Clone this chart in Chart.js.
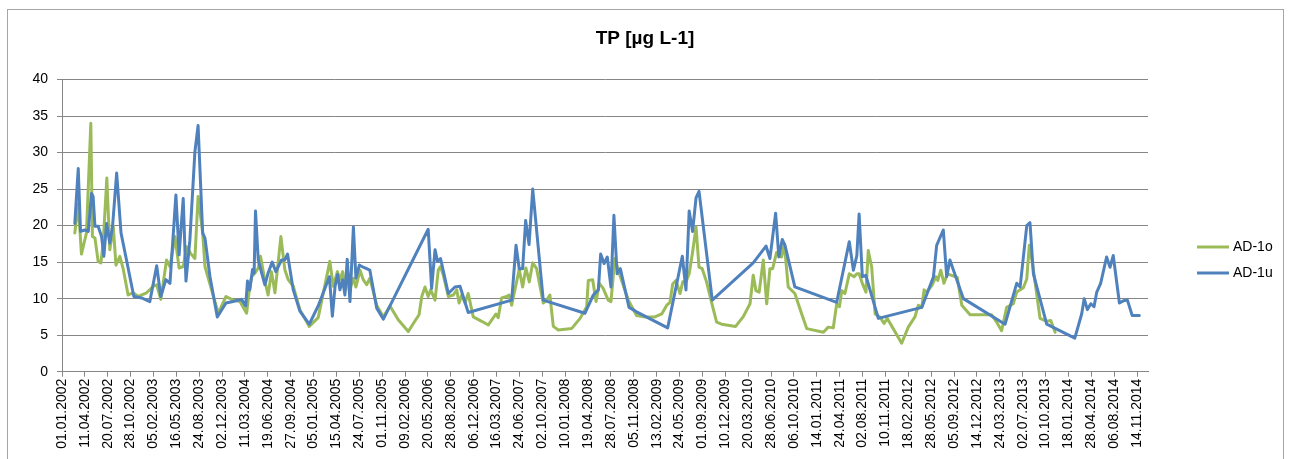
<!DOCTYPE html>
<html>
<head>
<meta charset="utf-8">
<title>TP</title>
<script src="https://cdn.jsdelivr.net/npm/chart.js@4/dist/chart.umd.min.js"></script>
<style>
    html, body { margin: 0; padding: 0; background: #fff; }
    #wrap { width: 1290px; height: 459px; }
</style>
</head>
<body>
<div id="wrap"><canvas id="tpChart" width="1290" height="459"></canvas></div>
<script>
// Axis labels (every 100 days from 01.01.2002)
const tickLabels = [
    '01.01.2002', '11.04.2002', '20.07.2002', '28.10.2002', '05.02.2003', '16.05.2003',
    '24.08.2003', '02.12.2003', '11.03.2004', '19.06.2004', '27.09.2004', '05.01.2005',
    '15.04.2005', '24.07.2005', '01.11.2005', '09.02.2006', '20.05.2006', '28.08.2006',
    '06.12.2006', '16.03.2007', '24.06.2007', '02.10.2007', '10.01.2008', '19.04.2008',
    '28.07.2008', '05.11.2008', '13.02.2009', '24.05.2009', '01.09.2009', '10.12.2009',
    '20.03.2010', '28.06.2010', '06.10.2010', '14.01.2011', '24.04.2011', '02.08.2011',
    '10.11.2011', '18.02.2012', '28.05.2012', '05.09.2012', '14.12.2012', '24.03.2013',
    '02.07.2013', '10.10.2013', '18.01.2014', '28.04.2014', '06.08.2014', '14.11.2014'
];
const yTicks = [0, 5, 10, 15, 20, 25, 30, 35, 40];

// AD-1o (upper)
const dates1o = [
    '26.02.2002', '13.03.2002', '27.03.2002', '18.04.2002', '07.05.2002', '14.05.2002', '25.05.2002', '08.06.2002',
    '20.06.2002', '30.06.2002', '16.07.2002', '29.07.2002', '13.08.2002', '25.08.2002', '11.09.2002', '26.09.2002',
    '17.10.2002', '08.11.2002', '30.11.2002', '06.01.2003', '04.02.2003', '19.02.2003', '09.03.2003', '03.04.2003',
    '18.04.2003', '10.05.2003', '28.05.2003', '15.06.2003', '30.06.2003', '17.07.2003', '05.08.2003', '19.08.2003',
    '08.09.2003', '18.09.2003', '17.10.2003', '15.11.2003', '19.12.2003', '19.01.2004', '18.02.2004', '18.03.2004',
    '29.03.2004', '09.04.2004', '23.04.2004', '08.05.2004', '18.05.2004', '06.06.2004', '20.06.2004', '05.07.2004',
    '20.07.2004', '15.08.2004', '01.09.2004', '16.09.2004', '08.10.2004', '06.11.2004', '17.12.2004', '25.01.2005',
    '17.03.2005', '01.04.2005', '19.04.2005', '30.04.2005', '12.05.2005', '25.05.2005', '06.06.2005', '15.06.2005',
    '28.06.2005', '09.07.2005', '27.07.2005', '10.08.2005', '25.08.2005', '08.09.2005', '08.10.2005', '06.11.2005',
    '05.12.2005', '10.01.2006', '23.02.2006', '17.03.2006', '11.04.2006', '23.04.2006', '07.05.2006', '21.05.2006',
    '01.06.2006', '20.06.2006', '04.07.2006', '14.07.2006', '26.07.2006', '17.08.2006', '08.09.2006', '23.09.2006',
    '03.10.2006', '15.10.2006', '29.10.2006', '12.11.2006', '04.12.2006', '10.01.2007', '08.02.2007', '13.03.2007',
    '23.03.2007', '07.04.2007', '29.04.2007', '10.05.2007', '21.05.2007', '04.06.2007', '23.06.2007', '08.07.2007',
    '22.07.2007', '06.08.2007', '21.08.2007', '07.09.2007', '06.10.2007', '21.10.2007', '04.11.2007', '19.11.2007',
    '11.12.2007', '07.02.2008', '15.03.2008', '13.04.2008', '20.04.2008', '09.05.2008', '24.05.2008', '07.06.2008',
    '24.06.2008', '16.07.2008', '28.07.2008', '14.08.2008', '29.08.2008', '20.09.2008', '12.10.2008', '17.11.2008',
    '24.12.2008', '05.02.2009', '07.03.2009', '29.03.2009', '12.04.2009', '24.04.2009', '08.05.2009', '26.05.2009',
    '07.06.2009', '21.06.2009', '05.07.2009', '20.07.2009', '04.08.2009', '17.08.2009', '31.08.2009', '19.09.2009',
    '14.10.2009', '02.11.2009', '24.11.2009', '24.01.2010', '26.02.2010', '28.03.2010', '11.04.2010', '23.04.2010',
    '07.05.2010', '25.05.2010', '09.06.2010', '23.06.2010', '05.07.2010', '22.07.2010', '13.08.2010', '25.08.2010',
    '11.09.2010', '10.10.2010', '09.11.2010', '01.12.2010', '12.02.2011', '05.03.2011', '27.03.2011', '11.04.2011',
    '23.04.2011', '03.05.2011', '17.05.2011', '05.06.2011', '26.06.2011', '08.07.2011', '18.07.2011', '01.08.2011',
    '17.08.2011', '27.08.2011', '11.09.2011', '26.09.2011', '17.10.2011', '04.11.2011', '18.11.2011', '20.01.2012',
    '18.02.2012', '18.03.2012', '02.04.2012', '17.04.2012', '27.04.2012', '09.05.2012', '31.05.2012', '18.06.2012',
    '26.06.2012', '09.07.2012', '23.07.2012', '07.08.2012', '19.09.2012', '09.10.2012', '14.11.2012', '16.02.2013',
    '10.03.2013', '01.04.2013', '23.04.2013', '22.05.2013', '06.06.2013', '05.07.2013', '20.07.2013', '31.07.2013',
    '15.08.2013', '16.09.2013', '15.10.2013', '02.11.2013', '21.11.2013'
];
const values1o = [
    19.0, 23.0, 16.1, 19.0, 34.0, 18.5, 18.3, 15.1,
    14.9, 17.6, 26.5, 16.7, 19.9, 14.6, 15.8, 14.0,
    10.5, 10.8, 10.3, 10.8, 11.7, 11.9, 9.9, 15.3,
    14.4, 18.5, 14.2, 14.4, 17.1, 16.2, 15.5, 24.0,
    19.0, 14.4, 11.2, 8.0, 10.3, 9.8, 9.6, 8.0,
    10.9, 13.0, 13.5, 14.2, 15.8, 12.4, 10.5, 13.7,
    10.8, 18.5, 14.0, 12.6, 11.7, 8.5, 6.2, 7.4,
    15.1, 11.7, 13.7, 12.6, 13.7, 11.2, 13.3, 11.5,
    12.8, 11.6, 13.9, 12.6, 11.9, 12.8, 9.1, 7.5,
    9.0, 7.1, 5.5, 6.6, 7.8, 10.3, 11.6, 10.3,
    11.2, 9.8, 13.9, 14.4, 13.2, 10.3, 10.5, 11.2,
    9.4, 10.5, 9.4, 10.7, 7.5, 6.9, 6.4, 7.9,
    7.4, 10.1, 10.3, 10.5, 9.1, 11.2, 14.0, 11.6,
    14.2, 12.3, 14.9, 14.1, 9.4, 9.8, 10.5, 6.2,
    5.7, 5.9, 7.3, 8.9, 12.5, 12.6, 9.6, 12.1,
    11.4, 9.8, 9.6, 15.5, 13.9, 11.8, 9.8, 7.7,
    7.5, 7.5, 7.9, 9.1, 9.5, 12.0, 12.5, 10.7,
    12.3, 12.3, 13.4, 16.4, 19.8, 14.3, 14.1, 12.3,
    9.1, 6.8, 6.5, 6.2, 7.5, 9.3, 13.2, 11.1,
    10.9, 15.3, 9.3, 14.1, 14.1, 16.3, 15.7, 17.5,
    11.6, 10.7, 7.9, 5.9, 5.4, 6.1, 6.0, 9.3,
    8.9, 11.1, 10.7, 13.4, 13.0, 13.4, 13.4, 12.1,
    10.9, 16.6, 14.3, 7.9, 7.5, 6.6, 7.3, 3.9,
    6.1, 7.5, 9.1, 8.8, 11.2, 10.9, 11.8, 13.0,
    12.5, 13.9, 12.1, 13.4, 12.9, 9.1, 7.8, 7.8,
    6.8, 5.6, 8.8, 9.3, 10.9, 11.5, 12.7, 17.3,
    14.6, 7.3, 6.9, 7.0, 5.4
];

// AD-1u (lower)
const dates1u = [
    '26.02.2002', '13.03.2002', '23.03.2002', '11.04.2002', '26.04.2002', '10.05.2002', '17.05.2002', '25.05.2002',
    '08.06.2002', '23.06.2002', '03.07.2002', '15.07.2002', '29.07.2002', '10.08.2002', '28.08.2002', '16.09.2002',
    '10.10.2002', '11.11.2002', '15.12.2002', '20.01.2003', '19.02.2003', '09.03.2003', '31.03.2003', '18.04.2003',
    '14.05.2003', '28.05.2003', '15.06.2003', '27.06.2003', '14.07.2003', '05.08.2003', '19.08.2003', '08.09.2003',
    '18.09.2003', '10.10.2003', '11.11.2003', '19.12.2003', '19.01.2004', '25.02.2004', '14.03.2004', '22.03.2004',
    '01.04.2004', '13.04.2004', '20.04.2004', '26.04.2004', '08.05.2004', '23.05.2004', '06.06.2004', '20.06.2004',
    '08.07.2004', '24.07.2004', '18.08.2004', '01.09.2004', '13.09.2004', '08.10.2004', '06.11.2004', '17.12.2004',
    '25.01.2005', '15.03.2005', '28.03.2005', '09.04.2005', '20.04.2005', '30.04.2005', '12.05.2005', '22.05.2005',
    '01.06.2005', '13.06.2005', '28.06.2005', '09.07.2005', '24.07.2005', '10.08.2005', '08.09.2005', '08.10.2005',
    '06.11.2005', '21.05.2006', '05.06.2006', '20.06.2006', '01.07.2006', '14.07.2006', '17.08.2006', '15.09.2006',
    '07.10.2006', '21.10.2006', '12.11.2006', '21.05.2007', '09.06.2007', '23.06.2007', '08.07.2007', '21.07.2007',
    '05.08.2007', '21.08.2007', '06.10.2007', '05.04.2008', '12.05.2008', '03.06.2008', '13.06.2008', '28.06.2008',
    '12.07.2008', '28.07.2008', '10.08.2008', '24.08.2008', '07.09.2008', '15.10.2008', '17.11.2008', '02.04.2009',
    '05.06.2009', '21.06.2009', '05.07.2009', '20.07.2009', '04.08.2009', '17.08.2009', '14.10.2009', '11.04.2010',
    '06.06.2010', '23.06.2010', '18.07.2010', '01.08.2010', '16.08.2010', '28.08.2010', '10.10.2010', '11.04.2011',
    '05.06.2011', '23.06.2011', '08.07.2011', '18.07.2011', '01.08.2011', '16.08.2011', '10.10.2011', '17.04.2012',
    '07.06.2012', '21.06.2012', '20.07.2012', '04.08.2012', '18.08.2012', '16.10.2012', '16.04.2013', '06.06.2013',
    '21.06.2013', '20.07.2013', '03.08.2013', '18.08.2013', '15.10.2013', '15.02.2014', '17.03.2014', '28.03.2014',
    '11.04.2014', '26.04.2014', '10.05.2014', '22.05.2014', '08.06.2014', '04.07.2014', '19.07.2014', '02.08.2014',
    '29.08.2014', '15.09.2014', '03.10.2014', '24.10.2014', '24.11.2014'
];
const values1u = [
    20.3, 27.8, 19.2, 19.4, 19.2, 24.4, 24.0, 19.9,
    19.9, 18.5, 15.8, 20.3, 17.6, 19.9, 27.2, 19.0,
    15.3, 10.3, 10.1, 9.6, 14.5, 10.3, 12.6, 12.1,
    24.2, 16.0, 23.7, 12.4, 18.0, 30.1, 33.7, 19.0,
    18.3, 13.0, 7.5, 9.4, 9.6, 9.9, 9.0, 12.4,
    11.2, 14.0, 13.5, 22.0, 15.3, 13.5, 11.9, 13.5,
    15.0, 13.7, 15.3, 15.3, 16.1, 11.2, 8.3, 6.5,
    9.0, 13.0, 7.6, 11.7, 13.3, 11.2, 12.6, 10.5,
    15.4, 9.6, 19.8, 12.8, 14.6, 14.3, 13.9, 8.7,
    7.2, 19.5, 11.4, 16.7, 15.1, 15.5, 10.7, 11.6,
    11.7, 10.3, 8.1, 9.8, 17.3, 14.1, 14.1, 20.7,
    17.4, 25.0, 9.8, 8.0, 10.5, 11.2, 16.1, 14.8,
    15.7, 11.6, 21.4, 13.4, 14.1, 8.8, 8.2, 6.0,
    15.8, 11.2, 22.0, 19.2, 23.8, 24.7, 9.8, 14.9,
    17.2, 15.5, 21.7, 15.7, 18.1, 17.3, 11.6, 9.5,
    17.8, 13.9, 15.9, 21.6, 13.0, 13.2, 7.3, 8.8,
    13.0, 17.3, 19.4, 13.0, 15.3, 10.0, 6.5, 12.1,
    11.6, 20.0, 20.4, 13.4, 6.5, 4.6, 7.9, 10.0,
    8.5, 9.3, 8.9, 10.9, 12.1, 15.7, 14.3, 15.9,
    9.4, 9.7, 9.8, 7.7, 7.7
];

const axisStart = Date.UTC(2002, 0, 1);

// dd.mm.yyyy -> days since 01.01.2002
function dayNum(s) {
    const [d, m, y] = s.split('.').map(Number);
    return Math.round((Date.UTC(y, m - 1, d) - axisStart) / 86400000);
}

function toPoints(dates, values) {
    return dates.map((d, i) => ({ x: dayNum(d), y: values[i] }));
}

const tickDays = tickLabels.map(dayNum);
const fontFamily = '"Liberation Sans", Arial, sans-serif';

// Chart frame and side legend
const framePlugin = {
    id: 'frame',
    beforeDraw(chart) {
        const ctx = chart.ctx;
        ctx.save();
        ctx.fillStyle = '#ffffff';
        ctx.fillRect(0, 0, chart.width, chart.height);
        ctx.strokeStyle = '#a6a6a6';
        ctx.lineWidth = 1;
        ctx.strokeRect(7.5, 9.5, 1276, 520);
        ctx.restore();
    },
    afterDraw(chart) {
        const ctx = chart.ctx;
        ctx.save();
        ctx.font = '14px ' + fontFamily;
        ctx.textBaseline = 'middle';
        ctx.fillStyle = '#000';
        chart.data.datasets.forEach((ds, i) => {
            const y = 247 + i * 26;
            ctx.strokeStyle = ds.borderColor;
            ctx.lineWidth = 3;
            ctx.beginPath();
            ctx.moveTo(1197, y);
            ctx.lineTo(1229, y);
            ctx.stroke();
            ctx.fillText(ds.label, 1233, y);
        });
        ctx.restore();
    }
};

document.addEventListener('DOMContentLoaded', function() {
    const ctx = document.getElementById('tpChart');

    new Chart(ctx, {
        type: 'line',
        data: {
            datasets: [
                {
                    label: 'AD-1o',
                    data: toPoints(dates1o, values1o),
                    borderColor: '#9BBB59',
                    backgroundColor: '#9BBB59',
                    borderWidth: 3,
                    pointRadius: 0,
                    tension: 0,
                    borderJoinStyle: 'round',
                    borderCapStyle: 'round',
                    fill: false,
                    order: 1
                },
                {
                    label: 'AD-1u',
                    data: toPoints(dates1u, values1u),
                    borderColor: '#4F81BD',
                    backgroundColor: '#4F81BD',
                    borderWidth: 3,
                    pointRadius: 0,
                    tension: 0,
                    borderJoinStyle: 'round',
                    borderCapStyle: 'round',
                    fill: false,
                    order: 0
                }
            ]
        },
        options: {
            responsive: false,
            animation: false,
            layout: {
                padding: 0
            },
            plugins: {
                legend: { display: false },
                tooltip: { enabled: false },
                title: {
                    display: true,
                    text: 'TP [µg L-1]',
                    color: '#000',
                    font: { family: fontFamily, size: 19, weight: 'bold' },
                    padding: { top: 27, bottom: 29.7 }
                }
            },
            scales: {
                x: {
                    type: 'linear',
                    min: 0,
                    max: 4748,
                    afterBuildTicks: function(scale) {
                        scale.ticks = tickDays.map(v => ({ value: v }));
                    },
                    afterFit: function(scale) {
                        scale.height = 87.3;
                    },
                    grid: {
                        drawOnChartArea: false,
                        drawTicks: true,
                        tickLength: 5,
                        color: '#868686'
                    },
                    border: { display: true, color: '#868686' },
                    ticks: {
                        autoSkip: false,
                        maxRotation: 90,
                        minRotation: 90,
                        padding: 2,
                        color: '#000',
                        font: { family: fontFamily, size: 14 },
                        callback: function(value) {
                            const i = tickDays.indexOf(value);
                            return i >= 0 ? tickLabels[i] : '';
                        }
                    }
                },
                y: {
                    min: 0,
                    max: 40,
                    afterBuildTicks: function(scale) {
                        scale.ticks = yTicks.map(v => ({ value: v }));
                    },
                    afterFit: function(scale) {
                        scale.width = 62;
                    },
                    grid: {
                        color: '#868686',
                        tickLength: 5,
                        drawTicks: true
                    },
                    border: { display: true, color: '#868686' },
                    ticks: {
                        padding: 9,
                        color: '#000',
                        font: { family: fontFamily, size: 14 }
                    }
                },
                // empty column on the right that holds the legend
                side: {
                    type: 'linear',
                    axis: 'y',
                    position: 'right',
                    afterFit: function(scale) {
                        scale.width = 142;
                    },
                    grid: { display: false },
                    border: { display: false },
                    ticks: { display: false }
                }
            }
        },
        plugins: [framePlugin]
    });
});
</script>
</body>
</html>
